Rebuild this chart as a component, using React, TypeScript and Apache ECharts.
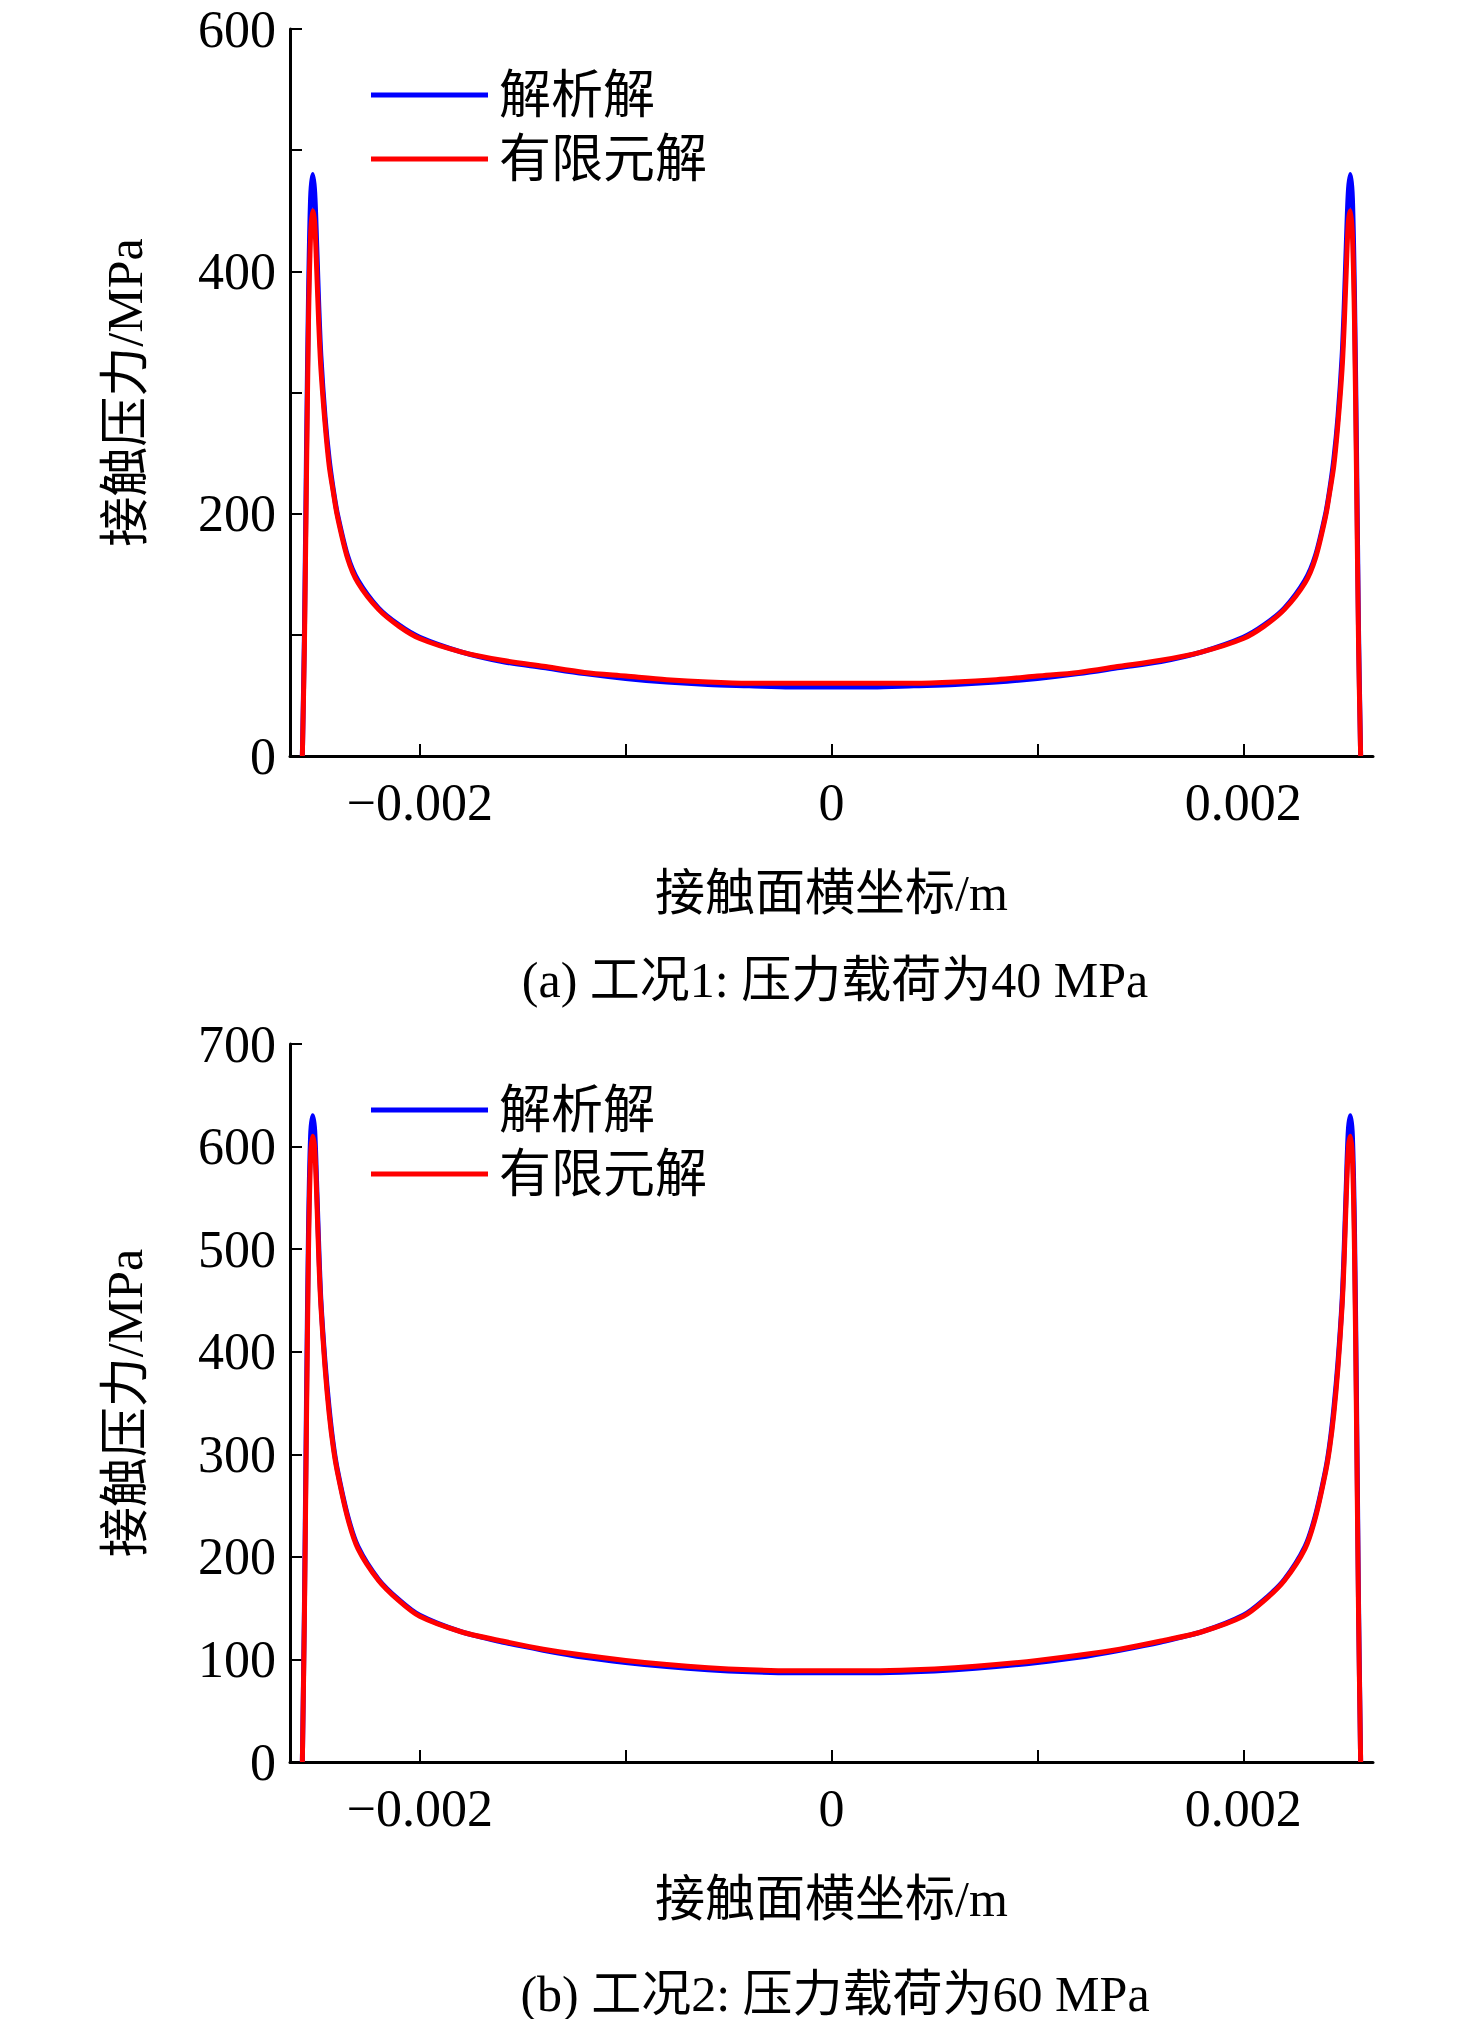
import { useEffect, useRef } from "react";
import * as echarts from "echarts";

// half profile (left edge to centre), mirrored for the right edge
const xHalf = [
  -0.00257, -0.00256, -0.00255, -0.00254, -0.00253, -0.00252, -0.00251, -0.0025, -0.00249, -0.00248,
  -0.00246, -0.00244, -0.00242, -0.0024, -0.00235, -0.0023, -0.0022, -0.0021, -0.002, -0.0018,
  -0.0016, -0.0014, -0.0012, -0.001, -0.0008, -0.0006, -0.0004, -0.0002, 0,
];
const blue40 = [0, 100, 250, 380, 460, 480, 465, 420, 370, 330, 280, 245, 220, 200, 165, 145, 122, 108, 98, 86, 78, 73, 68, 64, 61, 59, 58, 57, 57];
const red40 = [0, 90, 230, 360, 430, 450, 440, 400, 355, 320, 275, 240, 218, 198, 163, 143, 121, 107, 97, 86, 79, 74, 69, 66, 63, 61, 60, 60, 60];
const blue60 = [0, 150, 350, 520, 610, 630, 615, 560, 500, 450, 390, 345, 310, 285, 240, 210, 178, 158, 143, 127, 117, 109, 102, 97, 93, 90, 88, 87, 87];
const red60 = [0, 140, 330, 500, 590, 610, 598, 550, 490, 445, 385, 340, 307, 283, 238, 208, 177, 157, 142, 127, 118, 110, 104, 99, 95, 92, 90, 89, 89];

const seriesNames = ["解析解", "有限元解"];
const xTicks = [-0.002, -0.001, 0, 0.001, 0.002];
const xLabels = [-0.002, 0, 0.002];
const captions = ["(a) 工况1: 压力载荷为40 MPa", "(b) 工况2: 压力载荷为60 MPa"];

const FONT = "'Liberation Serif', 'Noto Sans CJK SC', serif";

function profile(vals: number[]): [number, number][] {
  const left = xHalf.map((x, i) => [x, vals[i]] as [number, number]);
  const right = xHalf
    .slice(0, -1)
    .reverse()
    .map((x, i) => [-x, vals[vals.length - 2 - i]] as [number, number]);
  return [...left, ...right];
}

function fmtX(v: number): string {
  if (Math.abs(v) < 1e-9) return "0";
  return (v < 0 ? "\u22120." : "0.") + Math.abs(v).toFixed(3).slice(2);
}

export default function App() {
  const ref = useRef<HTMLDivElement | null>(null);

  useEffect(() => {
    document.body.style.margin = "0";
    if (!ref.current) return;
    const chart = echarts.init(ref.current, undefined, { renderer: "svg" });

    const grids = [
      { left: 290, top: 29, width: 1083, height: 727 },
      { left: 290, top: 1044, width: 1083, height: 718 },
    ];
    const yMax = [600, 700];
    const yLabelStep = [200, 100];

    const xAxis = grids.map((_, i) => ({
      type: "value",
      gridIndex: i,
      min: -0.00263,
      max: 0.00263,
      name: "接触面横坐标/m",
      nameLocation: "middle",
      nameGap: 112,
      nameTextStyle: { fontFamily: FONT, fontSize: 50, color: "#000" },
      axisLine: { onZero: false, lineStyle: { color: "#000", width: 3 } },
      axisTick: { inside: true, length: 12, lineStyle: { color: "#000", width: 2 }, customValues: xTicks },
      axisLabel: { fontFamily: FONT, fontSize: 52, color: "#000", margin: 20, customValues: xLabels, formatter: fmtX },
      splitLine: { show: false },
    }));

    const yAxis = grids.map((_, i) => ({
      type: "value",
      gridIndex: i,
      min: 0,
      max: yMax[i],
      interval: 100,
      name: "接触压力/MPa",
      nameLocation: "middle",
      nameRotate: 90,
      nameGap: 140,
      nameTextStyle: { fontFamily: FONT, fontSize: 50, color: "#000" },
      axisLine: { show: true, onZero: false, lineStyle: { color: "#000", width: 3 } },
      axisTick: { inside: true, length: 12, lineStyle: { color: "#000", width: 2 } },
      axisLabel: {
        fontFamily: FONT,
        fontSize: 52,
        color: "#000",
        margin: 14,
        formatter: (v: number) => (v % yLabelStep[i] === 0 ? String(v) : ""),
      },
      splitLine: { show: false },
    }));

    const data = [
      [blue40, red40],
      [blue60, red60],
    ];
    const colors = ["#0000ff", "#ff0000"];
    const series: any[] = [];
    data.forEach((pair, g) => {
      pair.forEach((vals, k) => {
        series.push({
          name: seriesNames[k],
          type: "line",
          xAxisIndex: g,
          yAxisIndex: g,
          data: profile(vals),
          showSymbol: false,
          smooth: 0.3,
          lineStyle: { color: colors[k], width: 5 },
          itemStyle: { color: colors[k] },
          z: 2 + k,
        });
      });
    });

    const legendTops = [64, 1079];
    chart.setOption({
      animation: false,
      backgroundColor: "#fff",
      grid: grids,
      xAxis,
      yAxis,
      series,
      legend: legendTops.map((top) => ({
        orient: "vertical",
        left: 366,
        top,
        icon: "rect",
        itemWidth: 117,
        itemHeight: 5,
        itemGap: 12,
        textStyle: { fontFamily: FONT, fontSize: 52, color: "#000", padding: [0, 0, 0, 6] },
        data: seriesNames,
      })),
      graphic: captions.map((t, i) => ({
        type: "text",
        x: 835,
        y: i === 0 ? 980 : 1994,
        style: {
          text: t,
          font: `50px ${FONT}`,
          fill: "#000",
          align: "center",
          verticalAlign: "middle",
        },
      })),
    });

    return () => chart.dispose();
  }, []);

  return <div ref={ref} style={{ width: 1476, height: 2019 }} />;
}
